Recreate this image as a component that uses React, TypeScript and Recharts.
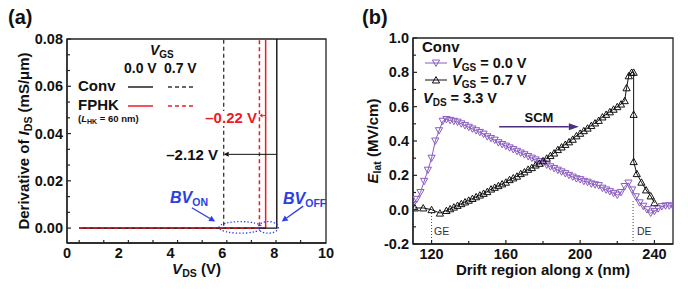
import React from 'react';
import {
  LineChart,
  Line,
  XAxis,
  YAxis,
  ReferenceLine,
  ReferenceDot,
  ReferenceArea
} from 'recharts';

const FONT = "'Liberation Sans', Arial, Helvetica, sans-serif";
const AXIS = '#222';
const RED = '#ec1c24';
const BLUE = '#2b3fe3';
const PURPLE = '#8a5cc0';
const SCM_COLOR = '#4b2c7f';

// (a) derivative of I_DS vs V_DS, flat then vertical at breakdown
const convOffVds = [0.47, 8.1, 8.1];
const convOffDer = [0, 0, 0.09];
const convOnVds = [0.47, 6.05, 6.05];
const convOnDer = [0, 0, 0.09];
const fphkOffVds = [0.47, 7.67, 7.67];
const fphkOffDer = [0, 0, 0.09];
const fphkOnVds = [0.47, 7.43, 7.43];
const fphkOnDer = [0, 0, 0.09];

const vdsTickLabels = [0, 2, 4, 6, 8, 10];
const vdsTickMarks = [0.47, 1.42, 2.37, 3.32, 4.27, 5.22, 6.17, 7.12, 8.07, 9.02];
const derTickLabels = [0, 0.02, 0.04, 0.06, 0.08];
const derTickMarks = [0, 0.00667, 0.01333, 0.02, 0.02667, 0.03333, 0.04, 0.04667, 0.05333, 0.06, 0.06667, 0.07333, 0.08];

// (b) lateral field along the drift region
const xGs00 = [
  110, 112, 114, 116, 118, 120, 122, 124, 126, 128,
  130, 132, 134, 136, 138, 140, 142, 144, 146, 148,
  150, 152, 154, 156, 158, 160, 162, 164, 166, 168,
  170, 172, 174, 176, 178, 180, 182, 184, 186, 188,
  190, 192, 194, 196, 198, 200, 202, 204, 206, 208,
  210, 212, 214, 216, 218, 220, 222, 224, 226, 228,
  230, 232, 234, 236, 238, 240, 242, 244, 246, 248,
  250
];
const eGs00 = [
  0.03, 0.06, 0.10, 0.165, 0.23, 0.30, 0.40, 0.46, 0.515, 0.525,
  0.52, 0.515, 0.51, 0.50, 0.49, 0.48, 0.47, 0.46, 0.45, 0.44,
  0.425, 0.415, 0.405, 0.39, 0.38, 0.37, 0.36, 0.35, 0.34, 0.33,
  0.32, 0.31, 0.30, 0.29, 0.28, 0.27, 0.26, 0.25, 0.24, 0.23,
  0.22, 0.21, 0.20, 0.19, 0.18, 0.175, 0.165, 0.16, 0.15, 0.145,
  0.14, 0.125, 0.115, 0.105, 0.095, 0.085, 0.10, 0.135, 0.155, 0.115,
  0.075, 0.04, 0.02, 0.0, -0.02, -0.01, 0.005, 0.018, 0.022, 0.022,
  0.02
];
const xGs07 = [
  111, 115.5, 120, 124.5,
  128, 130, 132, 134, 136, 138, 140, 142, 144, 146,
  148, 150, 152, 154, 156, 158, 160, 162, 164, 166,
  168, 170, 172, 174, 176, 178, 180, 182, 184, 186,
  188, 190, 192, 194, 196, 198, 200, 202, 204, 206,
  208, 210, 212, 214, 216, 218, 220, 222, 224,
  225, 226.2, 227.7, 228.8, 228.8, 228.8, 230.5, 233, 235.5, 238, 240
];
const eGs07 = [
  0.01, 0.01, 0.0, -0.02,
  -0.005, 0.005, 0.015, 0.025, 0.035, 0.045, 0.055, 0.065, 0.075, 0.085,
  0.095, 0.105, 0.12, 0.13, 0.14, 0.15, 0.16, 0.175, 0.185, 0.195,
  0.21, 0.22, 0.235, 0.245, 0.26, 0.27, 0.285, 0.30, 0.315, 0.33,
  0.35, 0.365, 0.38, 0.395, 0.41, 0.43, 0.445, 0.46, 0.475, 0.49,
  0.505, 0.52, 0.54, 0.555, 0.57, 0.585, 0.60, 0.615, 0.635,
  0.71, 0.78, 0.80, 0.80, 0.555, 0.28, 0.21, 0.16, 0.115, 0.08, 0.04
];

const driftTickLabels = [120, 160, 200, 240];
const driftTickMarks = [120, 140, 160, 180, 200, 220, 240];
const eTickLabels = [-0.2, 0, 0.2, 0.4, 0.6, 0.8, 1.0];
const eTickMarks = [-0.2, -0.1, 0, 0.1, 0.2, 0.3, 0.4, 0.5, 0.6, 0.7, 0.8, 0.9, 1.0];

const rows = (xs: number[], ys: number[]) => xs.map((x, i) => ({ x, y: ys[i] }));
const has = (list: number[], v: number) => list.some(t => Math.abs(t - v) < 1e-6);
const union = (a: number[], b: number[]) => Array.from(new Set([...a, ...b])).sort((p, q) => p - q);

const bottomTick = (labels: number[], marks: number[], digits: number) => (props: any) => {
  const { x, y, payload } = props;
  const v = payload.value;
  return (
    <g>
      {has(marks, v) && (
        <line x1={x} x2={x} y1={y} y2={y - (has(labels, v) ? 4 : 3)} stroke={AXIS} strokeWidth={1.2} />
      )}
      {has(labels, v) && (
        <text x={x} y={y + 15} textAnchor="middle" fontSize={14.5} fontWeight="bold" fontFamily={FONT} fill="#111">
          {v.toFixed(digits)}
        </text>
      )}
    </g>
  );
};

const leftTick = (labels: number[], marks: number[], digits: number) => (props: any) => {
  const { x, y, payload } = props;
  const v = payload.value;
  return (
    <g>
      {has(marks, v) && (
        <line x1={x} x2={x + (has(labels, v) ? 4 : 3)} y1={y} y2={y} stroke={AXIS} strokeWidth={1.2} />
      )}
      {has(labels, v) && (
        <text x={x - 4} y={y + 5} textAnchor="end" fontSize={14.5} fontWeight="bold" fontFamily={FONT} fill="#111">
          {v.toFixed(digits)}
        </text>
      )}
    </g>
  );
};

const arrowShape = (len: number, half: number) => (p: any) => {
  const { x1, y1, x2, y2, stroke, strokeWidth } = p;
  const a = Math.atan2(y2 - y1, x2 - x1);
  const bx = x2 - len * Math.cos(a);
  const by = y2 - len * Math.sin(a);
  const pts = [
    `${x2},${y2}`,
    `${bx + half * Math.sin(a)},${by - half * Math.cos(a)}`,
    `${bx - half * Math.sin(a)},${by + half * Math.cos(a)}`
  ].join(' ');
  return (
    <g>
      <line x1={x1} y1={y1} x2={bx} y2={by} stroke={stroke} strokeWidth={strokeWidth} />
      <polygon points={pts} fill={stroke} />
    </g>
  );
};

const ellipseShape = (rx: number, ry: number) => (p: any) => (
  <ellipse cx={p.cx} cy={p.cy} rx={rx} ry={ry} fill="none" stroke={BLUE} strokeWidth={1.3} strokeDasharray="1.3 2" />
);

const triPath = (cx: number, cy: number, down: boolean) =>
  down
    ? `M${cx - 3.6},${cy - 3} L${cx + 3.6},${cy - 3} L${cx},${cy + 3.4} Z`
    : `M${cx - 3.6},${cy + 3} L${cx + 3.6},${cy + 3} L${cx},${cy - 3.4} Z`;

const triDot = (down: boolean, color: string) => (props: any) => {
  const { cx, cy, index } = props;
  if (cx == null || cy == null) return <g key={`e${index}`} />;
  return <path key={`t${index}`} d={triPath(cx, cy, down)} fill="none" stroke={color} strokeWidth={1} />;
};

const txt = { fontFamily: FONT, fontWeight: 'bold' as const, fill: '#111' };

const PanelA = () => (
  <LineChart width={344} height={293} margin={{ top: 39, right: 18, bottom: 20, left: 27 }}>
    <XAxis
      type="number"
      dataKey="x"
      domain={[0, 10]}
      allowDataOverflow
      ticks={union(vdsTickLabels, vdsTickMarks)}
      interval={0}
      tick={bottomTick(vdsTickLabels, vdsTickMarks, 0)}
      tickLine={false}
      tickSize={0}
      tickMargin={0}
      height={30}
      axisLine={{ stroke: AXIS, strokeWidth: 1.3 }}
    />
    <YAxis
      type="number"
      domain={[-0.0063, 0.08]}
      allowDataOverflow
      ticks={derTickMarks}
      interval={0}
      tick={leftTick(derTickLabels, derTickMarks, 2)}
      tickLine={false}
      tickSize={0}
      tickMargin={0}
      width={40}
      axisLine={{ stroke: AXIS, strokeWidth: 1.3 }}
    />
    <ReferenceArea x1={0} x2={10} y1={-0.0063} y2={0.08} fill="none" stroke={AXIS} strokeWidth={1.3} ifOverflow="visible" />
    <Line data={rows(fphkOffVds, fphkOffDer)} dataKey="y" stroke={RED} strokeWidth={1.5} dot={false} activeDot={false} isAnimationActive={false} />
    <Line data={rows(convOffVds, convOffDer)} dataKey="y" stroke="#111" strokeWidth={1.4} dot={false} activeDot={false} isAnimationActive={false} />
    <Line data={rows(convOnVds, convOnDer)} dataKey="y" stroke="#333" strokeWidth={1.3} strokeDasharray="4 3" dot={false} activeDot={false} isAnimationActive={false} />
    <Line data={rows(fphkOnVds, fphkOnDer)} dataKey="y" stroke={RED} strokeWidth={1.5} strokeDasharray="4 3" dot={false} activeDot={false} isAnimationActive={false} />
    <ReferenceLine segment={[{ x: 8.1, y: 0.0312 }, { x: 6.05, y: 0.0312 }]} stroke="#111" strokeWidth={1} shape={arrowShape(5, 2.5)} ifOverflow="visible" />
    <ReferenceLine segment={[{ x: 7.67, y: 0.0476 }, { x: 7.43, y: 0.0476 }]} stroke={RED} strokeWidth={1} shape={arrowShape(3, 2)} ifOverflow="visible" />
    <ReferenceLine segment={[{ x: 4.82, y: 0.0086 }, { x: 5.72, y: 0.0028 }]} stroke={BLUE} strokeWidth={1.3} shape={arrowShape(6, 3)} ifOverflow="visible" />
    <ReferenceLine segment={[{ x: 9.12, y: 0.0093 }, { x: 8.29, y: 0.0028 }]} stroke={BLUE} strokeWidth={1.3} shape={arrowShape(6, 3)} ifOverflow="visible" />
    <ReferenceDot x={6.7} y={0.0003} shape={ellipseShape(21.5, 5.8)} ifOverflow="visible" />
    <ReferenceDot x={7.77} y={0.0003} shape={ellipseShape(10, 5.8)} ifOverflow="visible" />
  </LineChart>
);

const PanelB = () => (
  <LineChart width={344} height={293} margin={{ top: 38, right: 15, bottom: 19, left: 29 }}>
    <XAxis
      type="number"
      dataKey="x"
      domain={[110, 250]}
      allowDataOverflow
      ticks={driftTickMarks}
      interval={0}
      tick={bottomTick(driftTickLabels, driftTickMarks, 0)}
      tickLine={false}
      tickSize={0}
      tickMargin={0}
      height={30}
      axisLine={{ stroke: AXIS, strokeWidth: 1.3 }}
    />
    <YAxis
      type="number"
      domain={[-0.2, 1.0]}
      allowDataOverflow
      ticks={eTickMarks}
      interval={0}
      tick={leftTick(eTickLabels, eTickMarks, 1)}
      tickLine={false}
      tickSize={0}
      tickMargin={0}
      width={40}
      axisLine={{ stroke: AXIS, strokeWidth: 1.3 }}
    />
    <ReferenceArea x1={110} x2={250} y1={-0.2} y2={1.0} fill="none" stroke={AXIS} strokeWidth={1.3} ifOverflow="visible" />
    <ReferenceLine segment={[{ x: 120, y: -0.2 }, { x: 120, y: -0.015 }]} stroke="#444" strokeWidth={1} strokeDasharray="1 2" ifOverflow="visible" />
    <ReferenceLine segment={[{ x: 228.5, y: -0.2 }, { x: 228.5, y: 0.05 }]} stroke="#444" strokeWidth={1} strokeDasharray="1 2" ifOverflow="visible" />
    <Line data={rows(xGs00, eGs00)} dataKey="y" stroke={PURPLE} strokeWidth={1} dot={triDot(true, PURPLE)} activeDot={false} isAnimationActive={false} />
    <Line data={rows(xGs07, eGs07)} dataKey="y" stroke="#111" strokeWidth={1} dot={triDot(false, '#111')} activeDot={false} isAnimationActive={false} />
    <ReferenceLine segment={[{ x: 156.4, y: 0.483 }, { x: 199.3, y: 0.483 }]} stroke={SCM_COLOR} strokeWidth={1.6} shape={arrowShape(10, 3.6)} ifOverflow="visible" />
  </LineChart>
);

const Overlay = () => (
  <svg width={688} height={293} style={{ position: 'absolute', left: 0, top: 0, pointerEvents: 'none' }}>
    {/* panel (a) */}
    <text x={8} y={24} fontSize={20} {...txt}>(a)</text>
    <text x={29} y={141} transform="rotate(-90 29 141)" textAnchor="middle" fontSize={15} {...txt}>
      Derivative of <tspan fontStyle="italic">I</tspan>
      <tspan fontSize={10.5} dy={3}>DS</tspan>
      <tspan dy={-3}> (mS/μm)</tspan>
    </text>
    <text x={196.5} y={274} textAnchor="middle" fontSize={15} {...txt}>
      <tspan fontStyle="italic">V</tspan>
      <tspan fontSize={10.5} dy={3}>DS</tspan>
      <tspan dy={-3}> (V)</tspan>
    </text>
    <text x={150} y={55} fontSize={14} {...txt}>
      <tspan fontStyle="italic">V</tspan>
      <tspan fontSize={10} dy={2.5}>GS</tspan>
    </text>
    <text x={124} y={73} fontSize={14} {...txt}>0.0 V</text>
    <text x={164} y={73} fontSize={14} {...txt}>0.7 V</text>
    <text x={78} y={91} fontSize={15} {...txt}>Conv</text>
    <line x1={128} x2={153} y1={87} y2={87} stroke="#111" strokeWidth={1.4} />
    <line x1={168} x2={195} y1={87} y2={87} stroke="#333" strokeWidth={1.3} strokeDasharray="4 3" />
    <text x={78} y={110} fontSize={15} {...txt}>FPHK</text>
    <line x1={128} x2={153} y1={106} y2={106} stroke={RED} strokeWidth={1.5} />
    <line x1={168} x2={195} y1={106} y2={106} stroke={RED} strokeWidth={1.5} strokeDasharray="4 3" />
    <text x={78} y={122} fontSize={9.5} {...txt}>
      (<tspan fontStyle="italic">L</tspan>
      <tspan fontSize={7} dy={2}>HK</tspan>
      <tspan dy={-2}> = 60 nm)</tspan>
    </text>
    <rect x={203} y={111} width={55} height={15} fill="#fff" />
    <text x={257} y={123} textAnchor="end" fontSize={15} {...txt} fill={RED}>–0.22 V</text>
    <text x={218} y={160} textAnchor="end" fontSize={15} {...txt}>–2.12 V</text>
    <text x={170} y={203} fontSize={16} {...txt} fill={BLUE}>
      <tspan fontStyle="italic">BV</tspan>
      <tspan fontSize={10.5} dy={3}>ON</tspan>
    </text>
    <text x={283} y={204} fontSize={16} {...txt} fill={BLUE}>
      <tspan fontStyle="italic">BV</tspan>
      <tspan fontSize={10.5} dy={3}>OFF</tspan>
    </text>

    {/* panel (b) */}
    <text x={362} y={24} fontSize={20} {...txt}>(b)</text>
    <text x={378} y={141} transform="rotate(-90 378 141)" textAnchor="middle" fontSize={15} {...txt}>
      <tspan fontStyle="italic">E</tspan>
      <tspan fontSize={10.5} dy={3}>lat</tspan>
      <tspan dy={-3}> (MV/cm)</tspan>
    </text>
    <text x={543} y={275} textAnchor="middle" fontSize={15} {...txt}>Drift region along x (nm)</text>
    <text x={422} y={52} fontSize={15} {...txt}>Conv</text>
    <line x1={425} x2={447} y1={63} y2={63} stroke={PURPLE} strokeWidth={1} />
    <path d={triPath(436, 63, true)} fill="none" stroke={PURPLE} strokeWidth={1} />
    <text x={452} y={68} fontSize={14.5} {...txt}>
      <tspan fontStyle="italic">V</tspan>
      <tspan fontSize={10} dy={3}>GS</tspan>
      <tspan dy={-3}> = 0.0 V</tspan>
    </text>
    <line x1={425} x2={447} y1={80} y2={80} stroke="#111" strokeWidth={1} />
    <path d={triPath(436, 80, false)} fill="none" stroke="#111" strokeWidth={1} />
    <text x={452} y={85} fontSize={14.5} {...txt}>
      <tspan fontStyle="italic">V</tspan>
      <tspan fontSize={10} dy={3}>GS</tspan>
      <tspan dy={-3}> = 0.7 V</tspan>
    </text>
    <text x={423} y={103} fontSize={14.5} {...txt}>
      <tspan fontStyle="italic">V</tspan>
      <tspan fontSize={10} dy={3}>DS</tspan>
      <tspan dy={-3}> = 3.3 V</tspan>
    </text>
    <text x={539} y={122} textAnchor="middle" fontSize={13} {...txt}>SCM</text>
    <text x={434} y={235} fontSize={10.5} fontFamily={FONT} fill="#333">GE</text>
    <text x={637} y={235} fontSize={10.5} fontFamily={FONT} fill="#333">DE</text>
  </svg>
);

export default function App() {
  return (
    <div style={{ position: 'absolute', left: 0, top: 0, width: 688, height: 293, background: '#fff', fontFamily: FONT }}>
      <div style={{ position: 'absolute', left: 0, top: 0 }}>
        <PanelA />
      </div>
      <div style={{ position: 'absolute', left: 344, top: 0 }}>
        <PanelB />
      </div>
      <Overlay />
    </div>
  );
}
